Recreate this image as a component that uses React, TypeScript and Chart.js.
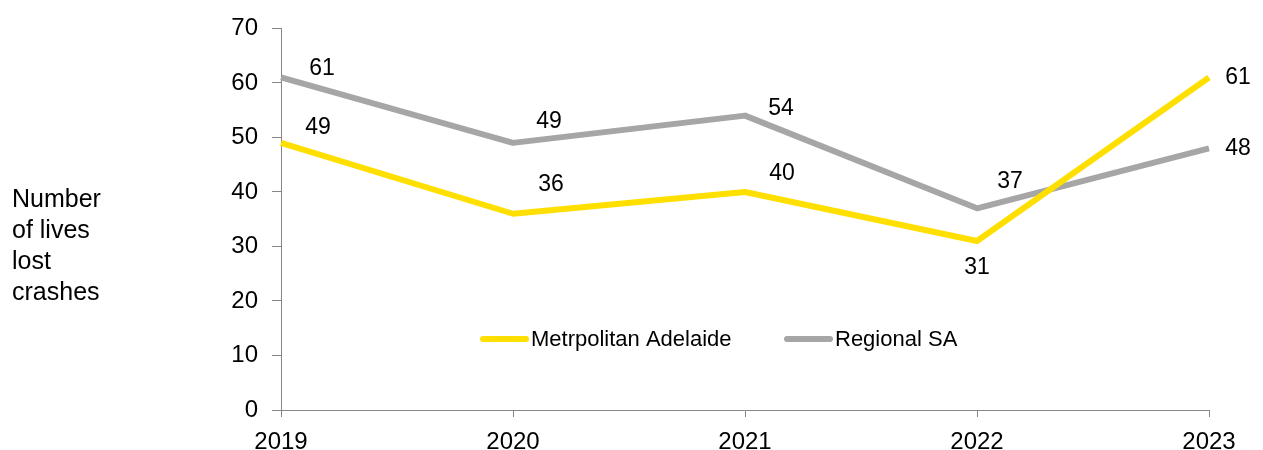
import React, { useEffect, useRef } from "react";
import { Chart, registerables } from "chart.js";

Chart.register(...registerables);

const years = ["2019", "2020", "2021", "2022", "2023"];
const metroValues = [49, 36, 40, 31, 61];
const regionalValues = [61, 49, 54, 37, 48];
const seriesNames = ["Metrpolitan Adelaide", "Regional SA"];
const yTitleLines = ["Number", "of lives", "lost", "crashes"];

const YELLOW = "#FFDF00";
const GREY = "#A6A6A6";
const AXIS = "#868686";
const FONT = "'Liberation Sans', Arial, sans-serif";

// label offsets (px) relative to each point: [dx, dy]
const metroLabelOffsets = [[37, -15], [38, -29], [37, -18], [0, 27], [29, 0]];
const regionalLabelOffsets = [[41, -9], [36, -21], [36, -7], [33, -27], [29, 0]];

const labelPlugin = {
  id: "customLabels",
  afterDatasetsDraw(chart: any) {
    const ctx = chart.ctx;
    ctx.save();
    ctx.font = `23px ${FONT}`;
    ctx.fillStyle = "#000";
    ctx.textAlign = "center";
    ctx.textBaseline = "middle";
    const offs = [metroLabelOffsets, regionalLabelOffsets];
    chart.data.datasets.forEach((ds: any, di: number) => {
      const meta = chart.getDatasetMeta(di);
      meta.data.forEach((pt: any, i: number) => {
        const [dx, dy] = offs[di][i];
        ctx.fillText(String(ds.data[i]), pt.x + dx, pt.y + dy);
      });
    });
    // legend
    const items = [
      { x: 483, color: YELLOW, text: seriesNames[0] },
      { x: 787, color: GREY, text: seriesNames[1] },
    ];
    const ly = 339;
    ctx.font = `22px ${FONT}`;
    items.forEach((it) => {
      ctx.strokeStyle = it.color;
      ctx.lineWidth = 6;
      ctx.lineCap = "round";
      ctx.beginPath();
      ctx.moveTo(it.x, ly);
      ctx.lineTo(it.x + 43, ly);
      ctx.stroke();
      ctx.textAlign = "left";
      ctx.fillStyle = "#000";
      ctx.fillText(it.text, it.x + 48, ly + 1);
    });
    ctx.restore();
  },
};

export default function App() {
  const ref = useRef<HTMLCanvasElement>(null);
  useEffect(() => {
    document.body.style.margin = "0";
    const chart = new Chart(ref.current!, {
      type: "line",
      data: {
        labels: years,
        datasets: [
          {
            label: seriesNames[0],
            data: metroValues,
            borderColor: YELLOW,
            backgroundColor: YELLOW,
            borderWidth: 6,
            pointRadius: 0,
            tension: 0,
            borderJoinStyle: "round",
          },
          {
            label: seriesNames[1],
            data: regionalValues,
            borderColor: GREY,
            backgroundColor: GREY,
            borderWidth: 6,
            pointRadius: 0,
            tension: 0,
            borderJoinStyle: "round",
          },
        ],
      },
      options: {
        animation: false,
        responsive: false,
        layout: { padding: { left: 0, right: 54, top: 27, bottom: 0 } },
        plugins: { legend: { display: false }, tooltip: { enabled: false } },
        scales: {
          x: {
            offset: false,
            grid: { display: true, drawOnChartArea: false, tickLength: 7, color: AXIS },
            border: { color: AXIS, width: 1 },
            ticks: { font: { family: FONT, size: 24 }, color: "#000", padding: 11, maxRotation: 0 },
            afterFit(scale: any) {
              scale.height = 40;
            },
          },
          y: {
            min: 0,
            max: 70,
            grid: { display: true, drawOnChartArea: false, tickLength: 9, color: AXIS },
            border: { color: AXIS, width: 1 },
            ticks: { stepSize: 10, font: { family: FONT, size: 24 }, color: "#000", padding: 14 },
            afterFit(scale: any) {
              scale.width = 281;
            },
          },
        },
      },
      plugins: [labelPlugin],
    });
    return () => chart.destroy();
  }, []);
  return (
    <div style={{ position: "relative", width: 1263, height: 450 }}>
      <canvas ref={ref} width={1263} height={450} style={{ display: "block" }} />
      <div
        style={{
          position: "absolute",
          left: 12,
          top: 183,
          fontFamily: FONT,
          fontSize: 25,
          lineHeight: "31px",
          color: "#000",
        }}
      >
        {yTitleLines.map((l, i) => (
          <div key={i}>{l}</div>
        ))}
      </div>
    </div>
  );
}
